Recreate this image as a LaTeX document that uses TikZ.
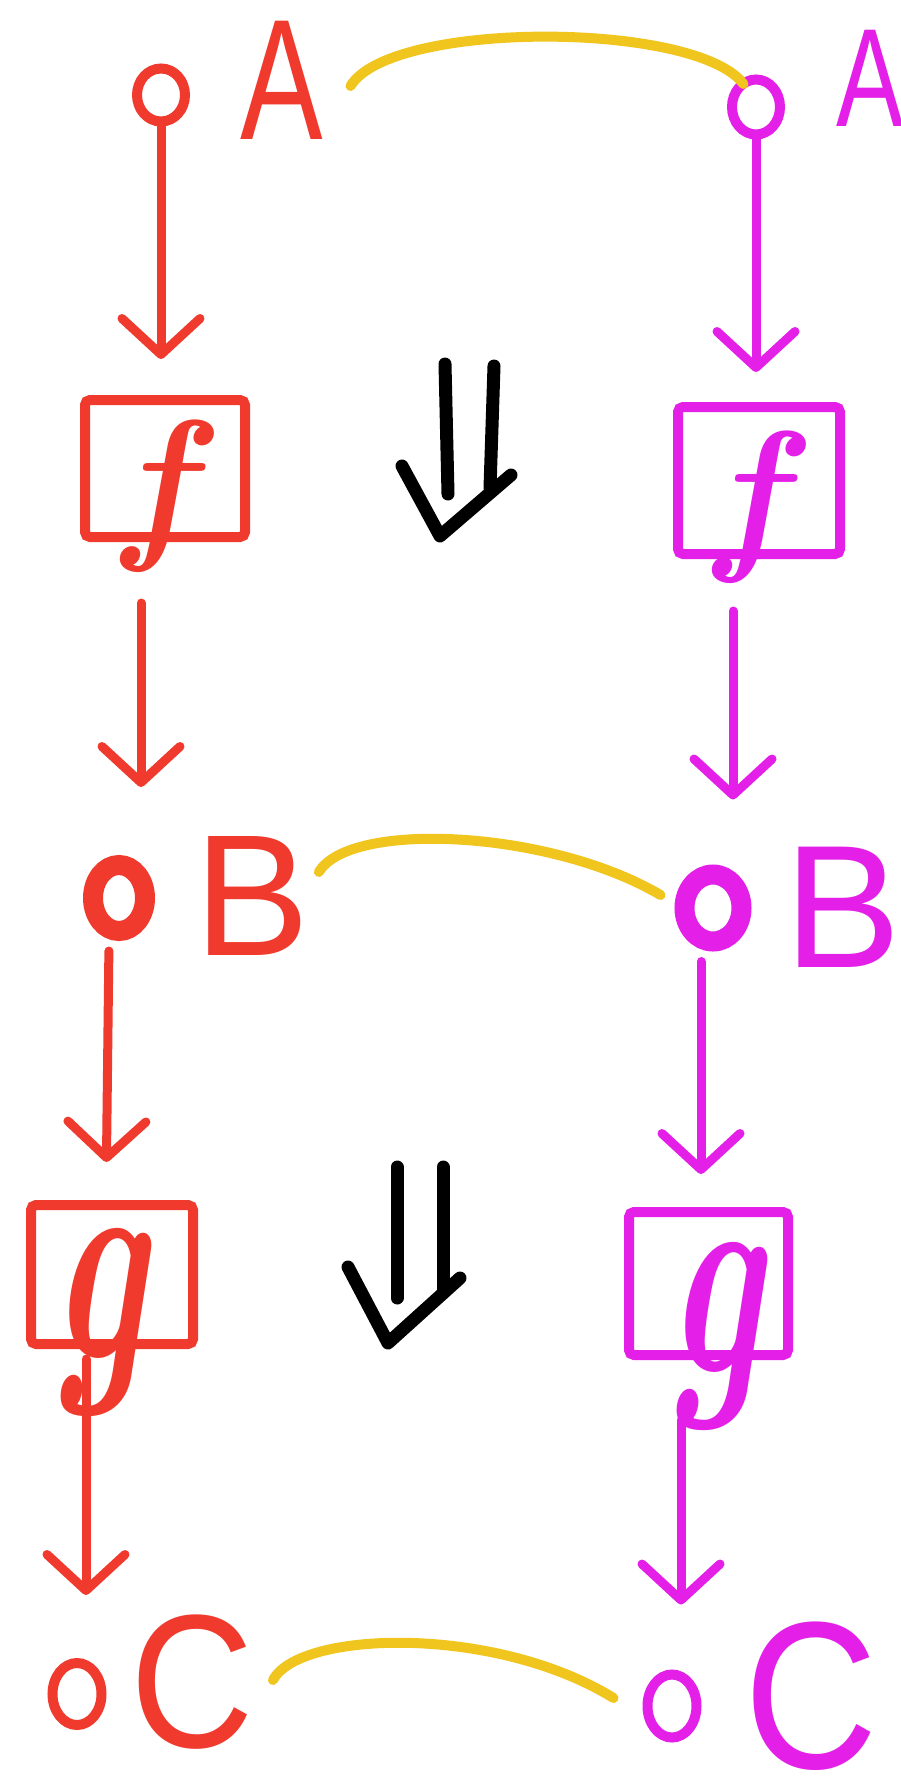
\documentclass[tikz,border=0pt]{standalone}
\usepackage{fontspec}
\usepackage{graphicx}
\usetikzlibrary{arrows.meta,shapes.geometric}
\newfontfamily\handfont{Liberation Sans}
\definecolor{cred}{RGB}{240,58,45}
\definecolor{cmag}{RGB}{228,32,232}
\definecolor{cyel}{RGB}{240,198,30}
\begin{document}
\begin{tikzpicture}[x=1pt,y=-1pt,
  ring/.style={draw, ellipse, inner sep=0pt, line width=10pt},
  thickring/.style={draw, ellipse, inner sep=0pt, line width=20pt},
  boxn/.style={draw, rectangle, inner sep=0pt, line width=10pt, rounded corners=5pt},
  letter/.style={inner sep=0pt, font=\handfont},
  fn/.style={inner sep=0pt},
  arr/.style={line width=9pt, line cap=round, -{Straight Barb[length=36pt,width=78pt,round]}},
  yel/.style={draw=cyel, line width=10pt, line cap=round},
  dbl/.style={draw=black, line width=13pt, line cap=round, line join=round}]
\useasboundingbox (0,0) rectangle (901,1783);
\clip (0,0) rectangle (901,1783);
\fill[white] (0,0) rectangle (901,1783);

% ---- left column (red)
\node[ring, draw=cred, minimum width=48pt, minimum height=53pt] (oA1) at (161,95) {};
\node[letter, text=cred] (A1) at (282,80) {\fontsize{172}{172}\selectfont\scalebox{0.72}[1]{A}};
\node[boxn, draw=cred, minimum width=160pt, minimum height=137pt] (f1) at (165,468.5) {};
\node[fn, text=cred] (fl1) at (157,496) {\fontsize{169}{169}\selectfont\bfseries\itshape f};
\node[thickring, draw=cred, minimum width=52pt, minimum height=66pt] (oB1) at (119,898) {};
\node[letter, text=cred] (B1) at (252,896) {\fontsize{173}{173}\selectfont B};
\node[boxn, draw=cred, minimum width=162pt, minimum height=139pt] (g1) at (112,1274.5) {};
\node[fn, text=cred] (gl1) at (98,1322) {\fontsize{180}{180}\selectfont\scalebox{1}[1.6]{\bfseries\itshape g}};
\node[ring, draw=cred, minimum width=49pt, minimum height=62pt] (oC1) at (77,1694) {};
\node[letter, text=cred] (C1) at (192,1682) {\fontsize{190}{190}\selectfont\scalebox{0.9}[1]{C}};

% ---- right column (magenta)
\node[ring, draw=cmag, minimum width=48pt, minimum height=55pt] (oA2) at (756,107) {};
\node[letter, text=cmag] (A2) at (870,78) {\fontsize{140}{140}\selectfont\scalebox{0.72}[1]{A}};
\node[boxn, draw=cmag, minimum width=162pt, minimum height=147pt] (f2) at (759,480.5) {};
\node[fn, text=cmag] (fl2) at (749,507) {\fontsize{169}{169}\selectfont\bfseries\itshape f};
\node[thickring, draw=cmag, minimum width=57pt, minimum height=67pt] (oB2) at (713,908) {};
\node[letter, text=cmag] (B2) at (843,907) {\fontsize{175}{175}\selectfont B};
\node[boxn, draw=cmag, minimum width=159pt, minimum height=143pt] (g2) at (708.5,1283.5) {};
\node[fn, text=cmag] (gl2) at (714,1336) {\fontsize{180}{180}\selectfont\scalebox{1}[1.6]{\bfseries\itshape g}};
\node[ring, draw=cmag, minimum width=49pt, minimum height=63pt] (oC2) at (672,1706) {};
\node[letter, text=cmag] (C2) at (811,1696) {\fontsize{210}{210}\selectfont\scalebox{0.88}[1]{C}};

% ---- arrows left
\draw[arr, draw=cred, shorten >=36pt] (oA1.south) -- (oA1.south |- f1.north);
\draw[arr, draw=cred, shorten <=61pt, shorten >=68pt] ([xshift=-24pt]f1.south) -- ([xshift=22pt]oB1.north);
\draw[arr, draw=cred, shorten <=10pt, shorten >=38pt] ([xshift=-10pt]oB1.south) -- ([xshift=-6pt]g1.north);
\draw[arr, draw=cred, shorten <=10pt, shorten >=63pt] ([xshift=-26pt]g1.south) -- ([xshift=9pt]oC1.north);

% ---- arrows right
\draw[arr, draw=cmag, shorten >=30pt] (oA2.south) -- (oA2.south |- f2.north);
\draw[arr, draw=cmag, shorten <=52pt, shorten >=65pt] ([xshift=-26pt]f2.south) -- ([xshift=20pt]oB2.north);
\draw[arr, draw=cmag, shorten <=10pt, shorten >=33pt] ([xshift=-12pt]oB2.south) -- ([xshift=-7.5pt]g2.north);
\draw[arr, draw=cmag, shorten <=60pt, shorten >=65pt] ([xshift=-27.5pt]g2.south) -- ([xshift=9pt]oC2.north);

% ---- yellow links
\draw[yel] ([shift={(27,6)}]A1.east) .. controls +(40,-66) and +(-47,-63) .. ([xshift=8pt]oA2.north west);
\draw[yel] ([shift={(9,-24)}]B1.east) .. controls +(31,-52) and +(-110,-65) .. ([shift={(-14,-13)}]oB2.west);
\draw[yel] ([shift={(19,-2)}]C1.east) .. controls +(27,-50) and +(-118,-73) .. ([shift={(-29,-8)}]oC2.west);

% ---- double arrows
\draw[dbl] (445,364) -- (448,494);
\draw[dbl] (494,366) -- (490,488);
\draw[dbl] (402,466) -- (440,536) -- (511,475);
\draw[dbl] (397,1167) -- (397,1298);
\draw[dbl] (443,1167) -- (443,1293);
\draw[dbl] (348,1267) -- (388,1343) -- (460,1278);
\end{tikzpicture}
\end{document}
